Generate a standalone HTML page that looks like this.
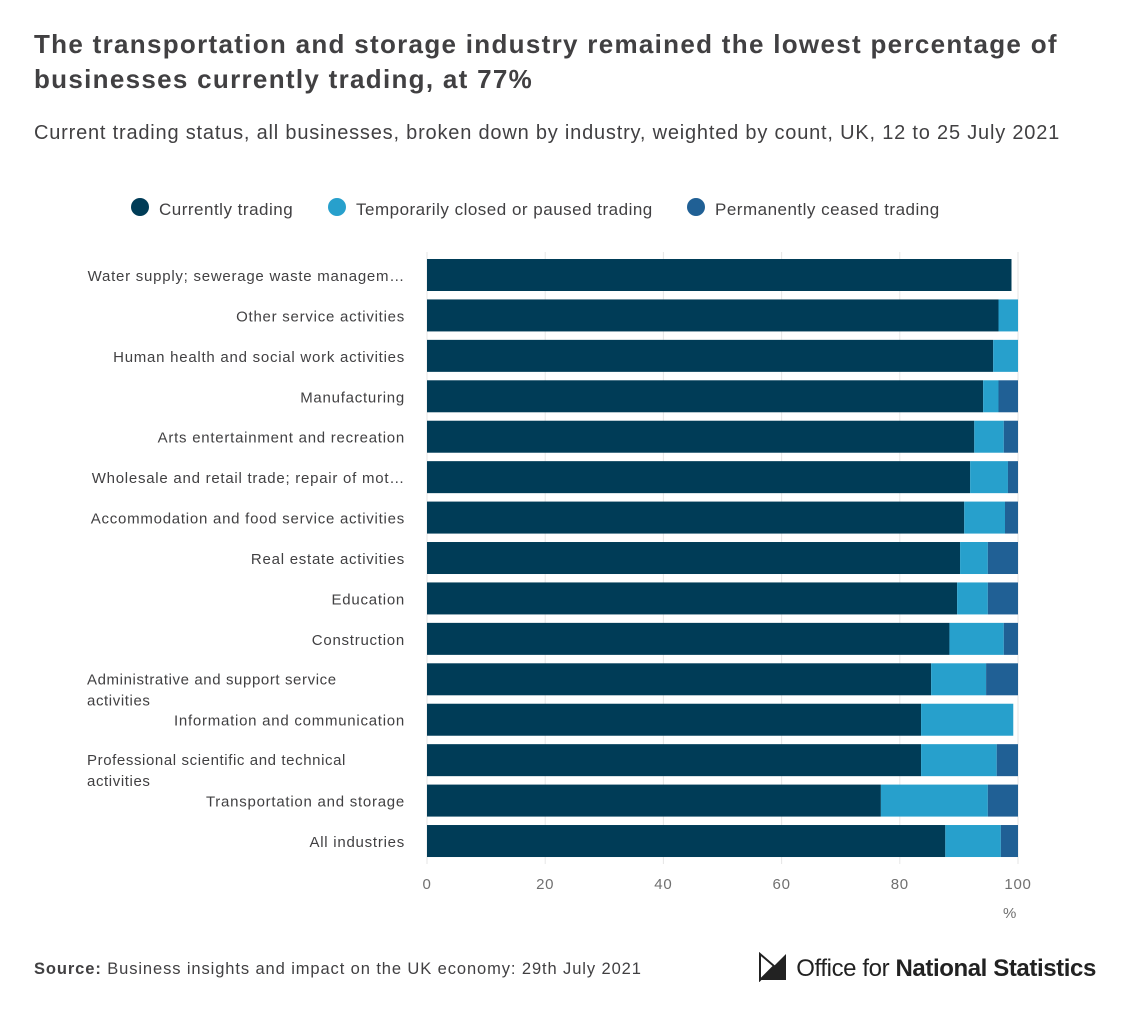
<!DOCTYPE html>
<html><head><meta charset="utf-8"><style>
body{margin:0;background:#fff;width:1122px;height:1010px;overflow:hidden;font-family:"Liberation Sans",sans-serif;color:#414042}
#t{position:absolute;left:34px;top:27px;font-size:26px;font-weight:bold;line-height:35px;width:1080px;letter-spacing:1.3px}
#st{position:absolute;left:34px;top:122px;font-size:20px;color:#414042;letter-spacing:0.8px;white-space:nowrap}
#src{position:absolute;left:34px;top:960px;font-size:16.5px;letter-spacing:0.9px}
svg text{letter-spacing:0.75px}
</style></head><body>
<div id="t">The transportation and storage industry remained the lowest percentage of businesses currently trading, at 77%</div>
<div id="st">Current trading status, all businesses, broken down by industry, weighted by count, UK, 12 to 25 July 2021</div>
<svg id="c" width="1122" height="1010" style="position:absolute;left:0;top:0"></svg>
<div id="src"><b>Source:</b> Business insights and impact on the UK economy: 29th July 2021</div>
<div style="position:absolute;left:758px;top:952px;font-size:24px;color:#222;letter-spacing:-0.4px">
<svg width="32" height="30" style="vertical-align:-6px"><path d="M2 28 L28 2 L28 28 Z" fill="#222"/><path d="M2 28 L16 14 L2 2Z" fill="none" stroke="#222" stroke-width="2"/></svg>
Office for <b>National Statistics</b></div>
<script>
const categories=["Water supply; sewerage waste managem…","Other service activities","Human health and social work activities","Manufacturing","Arts entertainment and recreation","Wholesale and retail trade; repair of mot…","Accommodation and food service activities","Real estate activities","Education","Construction","Administrative and support service activities","Information and communication","Professional scientific and technical activities","Transportation and storage","All industries"];
const trading=[98.9,96.7,95.8,94.1,92.6,91.9,90.9,90.2,89.7,88.4,85.3,83.6,83.6,76.8,87.7];
const closed=[0,3.3,4.2,2.6,5.0,6.4,6.9,4.7,5.2,9.2,9.3,15.6,12.8,18.1,9.4];
const ceased=[0,0,0,3.3,2.4,1.7,2.2,5.1,5.1,2.4,5.4,0,3.6,5.1,2.9];
const ticks=[0,20,40,60,80,100];
const series=[["Currently trading","#003c57",trading],["Temporarily closed or paused trading","#27a0cc",closed],["Permanently ceased trading","#206095",ceased]];
const svg=document.getElementById('c');const NS='http://www.w3.org/2000/svg';
const x0=427,x1=1018,y0=259,step=40.43,bh=32;
const X=v=>x0+(x1-x0)*v/100;
function mk(t,a,txt,parent){const e=document.createElementNS(NS,t);for(const k in a)e.setAttribute(k,a[k]);if(txt!==undefined)e.textContent=txt;(parent||svg).appendChild(e);return e;}
ticks.forEach(t=>{
const l=mk('line',{x1:X(t),x2:X(t),y1:252,y2:864,stroke:'#e6e6e6'});


const tx=mk('text',{x:X(t),y:889,'text-anchor':'middle','font-size':15,fill:'#707070'},t);


});
const u=mk('text',{x:1010,y:918,'text-anchor':'middle','font-size':15,fill:'#707070'},'%');


categories.forEach((c,i)=>{
const y=y0+i*step;let acc=0;
series.forEach((s,j)=>{const v=s[2][i];
const r=mk('rect',{x:X(acc),y:y,width:Math.max(0,X(acc+v)-X(acc)),height:bh,fill:s[1]});


acc+=v;});
let lb;
if(c==="Administrative and support service activities"||c==="Professional scientific and technical activities"){
lb=mk('text',{x:87,y:y+21,'font-size':15,fill:'#414042',style:'letter-spacing:0.6px'});
const w=c.split(' ');
mk('tspan',{x:87,dy:0},w.slice(0,-1).join(' '),lb);
mk('tspan',{x:87,dy:21},w[w.length-1],lb);
}else{
lb=mk('text',{x:405,y:y+22,'text-anchor':'end','font-size':15,fill:'#414042'},c);}


});
let lx=[131,328,687];
series.forEach((s,j)=>{
const g=mk('g',{});


mk('circle',{cx:lx[j]+9,cy:207,r:9,fill:s[1]},undefined,g);
mk('text',{x:lx[j]+28,y:215,'font-size':17,fill:'#414042',style:'letter-spacing:0.5px'},s[0],g);
});
</script>
</body></html>
